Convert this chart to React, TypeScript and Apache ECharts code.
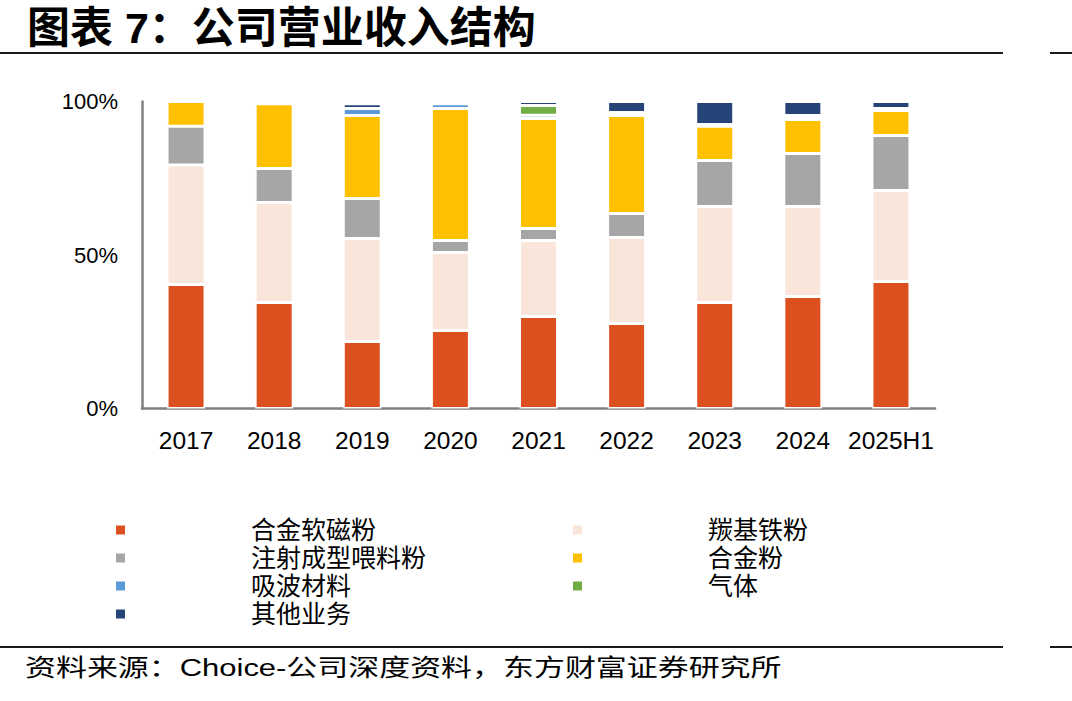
import React, { useEffect, useRef } from "react";
import * as echarts from "echarts";

// Revenue structure by business line, share of total (%)
const categories = ["2017", "2018", "2019", "2020", "2021", "2022", "2023", "2024", "2025H1"];
const softMagneticAlloy = [40.4, 34.5, 21.8, 25.4, 30.0, 27.7, 34.5, 36.5, 41.4];
const carbonylIron = [38.9, 32.6, 33.6, 25.4, 24.7, 28.0, 31.3, 29.3, 29.6];
const mimFeedstock = [12.6, 11.1, 13.0, 3.9, 3.9, 7.8, 15.0, 17.3, 17.9];
const alloyPowder = [8.1, 21.1, 27.0, 43.0, 35.9, 31.9, 11.1, 11.0, 8.2];
const absorbingMaterial = [null, null, 2.3, 1.6, 1.0, 1.0, 0.6, 0.7, 0.6];
const gas = [null, null, null, null, 3.2, null, null, 0.6, null];
const otherBusiness = [null, null, 1.6, null, 1.3, 3.6, 7.5, 4.6, 2.3];
const yTicks = [0, 50, 100];

const seriesDefs = [
  { name: "合金软磁粉", data: softMagneticAlloy, color: "#DC4F1F" },
  { name: "羰基铁粉", data: carbonylIron, color: "#F9E5D9" },
  { name: "注射成型喂料粉", data: mimFeedstock, color: "#A6A6A6" },
  { name: "合金粉", data: alloyPowder, color: "#FFC000" },
  { name: "吸波材料", data: absorbingMaterial, color: "#5B9BD5" },
  { name: "气体", data: gas, color: "#70AD47" },
  { name: "其他业务", data: otherBusiness, color: "#264478" },
];

const leftLegend = ["合金软磁粉", "注射成型喂料粉", "吸波材料", "其他业务"];
const rightLegend = ["羰基铁粉", "合金粉", "气体"];

const LATIN = '"Liberation Sans", Arial, sans-serif';
const MIXED = '"Liberation Sans", "Noto Sans CJK SC", sans-serif';

export default function App() {
  const ref = useRef<HTMLDivElement>(null);

  useEffect(() => {
    if (!ref.current) return;
    const chart = echarts.init(ref.current, undefined, { renderer: "svg" });

    const legendBase = {
      orient: "vertical" as const,
      icon: "rect",
      itemWidth: 9,
      itemHeight: 9,
      itemGap: 2,
      itemStyle: { borderWidth: 0 },
      textStyle: {
        fontFamily: MIXED,
        fontSize: 25,
        lineHeight: 26,
        color: "#000",
        padding: [0, 0, 0, 121],
      },
      selectedMode: false,
    };

    chart.setOption({
      animation: false,
      backgroundColor: "#ffffff",
      grid: { left: 142, right: 137, top: 101.5, bottom: 292.5, containLabel: false },
      xAxis: {
        type: "category",
        data: categories,
        axisLine: { lineStyle: { color: "#808080", width: 2.5 } },
        axisTick: { show: false },
        axisLabel: {
          color: "#000",
          fontFamily: LATIN,
          fontSize: 24.5,
          margin: 19,
          interval: 0,
        },
      },
      yAxis: {
        type: "value",
        min: yTicks[0],
        max: yTicks[yTicks.length - 1],
        interval: yTicks[1] - yTicks[0],
        axisLine: { show: true, lineStyle: { color: "#808080", width: 2.5 } },
        axisTick: { show: false },
        splitLine: { show: false },
        axisLabel: {
          color: "#000",
          fontFamily: LATIN,
          fontSize: 22,
          margin: 24,
          formatter: "{value}%",
        },
      },
      legend: [
        { ...legendBase, left: 111, top: 512, data: leftLegend },
        { ...legendBase, left: 568, top: 512, data: rightLegend },
      ],
      series: seriesDefs.map((s) => ({
        name: s.name,
        type: "bar",
        stack: "share",
        data: s.data,
        barWidth: 38,
        itemStyle: { color: s.color, borderColor: "#ffffff", borderWidth: 1.5 },
      })),
      graphic: [
        {
          type: "text",
          x: 27,
          y: 28,
          style: {
            text: "图表 7：公司营业收入结构",
            fontFamily: MIXED,
            fontWeight: "bold",
            fontSize: 43,
            fill: "#000",
            textVerticalAlign: "middle",
          },
        },
        { type: "line", shape: { x1: 0, y1: 53, x2: 1003, y2: 53 }, style: { stroke: "#1a1a1a", lineWidth: 2 } },
        { type: "line", shape: { x1: 1050, y1: 53, x2: 1072, y2: 53 }, style: { stroke: "#1a1a1a", lineWidth: 2 } },
        { type: "line", shape: { x1: 0, y1: 647, x2: 1003, y2: 647 }, style: { stroke: "#1a1a1a", lineWidth: 2 } },
        { type: "line", shape: { x1: 1050, y1: 647, x2: 1072, y2: 647 }, style: { stroke: "#1a1a1a", lineWidth: 2 } },
        {
          type: "text",
          x: 25,
          y: 668,
          scaleX: 1.29,
          style: {
            text: "资料来源：Choice-公司深度资料，东方财富证券研究所",
            fontFamily: MIXED,
            fontSize: 24,
            fill: "#000",
            textVerticalAlign: "middle",
          },
        },
      ],
    });

    return () => chart.dispose();
  }, []);

  return (
    <div
      ref={ref}
      style={{ position: "fixed", left: 0, top: 0, width: 1072, height: 701, background: "#fff" }}
    />
  );
}
